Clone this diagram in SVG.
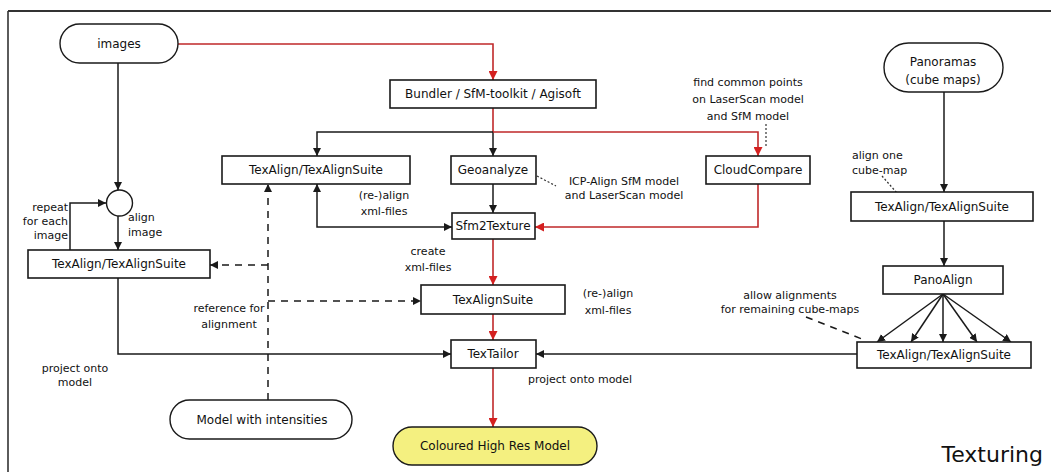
<svg xmlns="http://www.w3.org/2000/svg" width="1051" height="472" viewBox="0 0 1051 472">
  <style>
    .box { fill: #ffffff; stroke: #1a1a1a; stroke-width: 1.6; }
    .pill { fill: #ffffff; stroke: #1a1a1a; stroke-width: 1.4; }
    .final { fill: #f4f080; stroke: #1a1a1a; stroke-width: 1.4; }
    .lbl { font-family: "DejaVu Sans", Verdana, sans-serif; font-size: 12px; fill: #111; text-anchor: middle; }
    .note { font-family: "DejaVu Sans", Verdana, sans-serif; font-size: 11px; fill: #111; }
    .mid { text-anchor: middle; }
    .end { text-anchor: end; }
    .k { fill: none; stroke: #1a1a1a; stroke-width: 1.5; }
    .r { fill: none; stroke: #c0282a; stroke-width: 1.6; }
    .dash { fill: none; stroke: #1a1a1a; stroke-width: 1.5; stroke-dasharray: 7 6; }
    .dot { fill: none; stroke: #333; stroke-width: 1.2; stroke-dasharray: 2 2; }
  </style>
  <defs>
    <marker id="ak" viewBox="0 0 10 10" refX="10" refY="5" markerWidth="8" markerHeight="8" markerUnits="userSpaceOnUse" orient="auto-start-reverse">
      <path d="M0,0 L10,5 L0,10 z" fill="#1a1a1a"/>
    </marker>
    <marker id="ar" viewBox="0 0 10 10" refX="10" refY="5" markerWidth="9" markerHeight="9" markerUnits="userSpaceOnUse" orient="auto">
      <path d="M0,0 L10,5 L0,10 z" fill="#d42020"/>
    </marker>
  </defs>

  <rect width="1051" height="472" fill="#ffffff"/>

  <!-- frame -->
  <g id="frame">
    <line x1="8" y1="11" x2="1051" y2="11" stroke="#333" stroke-width="2"/>
    <line x1="8" y1="11" x2="8" y2="472" stroke="#333" stroke-width="1.6"/>
    <text x="1043" y="462" font-family="DejaVu Sans, Verdana, sans-serif" font-size="22" fill="#111" text-anchor="end">Texturing</text>
  </g>

  <!-- connectors -->
  <g id="connectors">
    <polyline class="r" points="178,44 493,44 493,80" marker-end="url(#ar)"/>
    <line class="k" x1="118" y1="63" x2="118" y2="190" marker-end="url(#ak)"/>
    <line class="k" x1="118" y1="216" x2="118" y2="250" marker-end="url(#ak)"/>
    <polyline class="k" points="70,250 70,203 106,203" marker-end="url(#ak)"/>
    <polyline class="k" points="118,278 118,354 451,354" marker-end="url(#ak)"/>

    <line class="r" x1="493" y1="108" x2="493" y2="132"/>
    <line class="k" x1="493" y1="132" x2="493" y2="156" marker-end="url(#ak)"/>
    <polyline class="k" points="493,132 317,132 317,156" marker-end="url(#ak)"/>
    <polyline class="r" points="493,132 758,132 758,156" marker-end="url(#ar)"/>

    <line class="k" x1="493" y1="184" x2="493" y2="213" marker-end="url(#ak)"/>
    <polyline class="k" points="317,184 317,227 452,227" marker-start="url(#ak)" marker-end="url(#ak)"/>
    <polyline class="r" points="758,184 758,227 535,227" marker-end="url(#ar)"/>
    <line class="r" x1="493" y1="239" x2="493" y2="285" marker-end="url(#ar)"/>
    <line class="r" x1="493" y1="314" x2="493" y2="340" marker-end="url(#ar)"/>
    <line class="r" x1="493" y1="368" x2="493" y2="427" marker-end="url(#ar)"/>

    <line class="dash" x1="268" y1="400" x2="268" y2="184" marker-end="url(#ak)"/>
    <line class="dash" x1="268" y1="265" x2="210" y2="265" marker-end="url(#ak)"/>
    <line class="dash" x1="268" y1="301" x2="421" y2="301" marker-end="url(#ak)"/>

    <line class="k" x1="944" y1="92" x2="944" y2="192" marker-end="url(#ak)"/>
    <line class="k" x1="944" y1="221" x2="944" y2="266" marker-end="url(#ak)"/>
    <line class="k" x1="943" y1="294" x2="877" y2="342" marker-end="url(#ak)"/>
    <line class="k" x1="943" y1="294" x2="911" y2="342" marker-end="url(#ak)"/>
    <line class="k" x1="943" y1="294" x2="943" y2="342" stroke-width="2.2" marker-end="url(#ak)"/>
    <line class="k" x1="943" y1="294" x2="977" y2="342" marker-end="url(#ak)"/>
    <line class="k" x1="943" y1="294" x2="1011" y2="342" marker-end="url(#ak)"/>
    <line class="k" x1="857" y1="354" x2="536" y2="354" marker-end="url(#ak)"/>

    <!-- annotation leaders -->
    <line class="dot" x1="537" y1="176" x2="556" y2="186"/>
    <line class="dot" x1="766" y1="124" x2="766" y2="146"/>
    <line class="dot" x1="882" y1="176" x2="897" y2="193"/>
    <line class="dash" x1="806" y1="317" x2="862" y2="339" stroke-dasharray="4 3" stroke-width="1.2"/>
  </g>

  <!-- nodes -->
  <g id="images">
    <rect class="pill" x="60" y="24" width="118" height="39" rx="19.5"/>
    <text class="lbl" x="119" y="48">images</text>
  </g>
  <g id="align-image">
    <circle class="pill" cx="119.5" cy="203" r="13"/>
  </g>
  <g id="texalign-left">
    <rect class="box" x="28" y="250" width="182" height="28"/>
    <text class="lbl" x="119" y="268">TexAlign/TexAlignSuite</text>
  </g>
  <g id="bundler">
    <rect class="box" x="390" y="80" width="206" height="28"/>
    <text class="lbl" x="493" y="98">Bundler / SfM-toolkit / Agisoft</text>
  </g>
  <g id="texalign-upper">
    <rect class="box" x="222" y="156" width="188" height="28"/>
    <text class="lbl" x="316" y="174">TexAlign/TexAlignSuite</text>
  </g>
  <g id="geoanalyze">
    <rect class="box" x="451" y="156" width="85" height="28"/>
    <text class="lbl" x="493" y="174">Geoanalyze</text>
  </g>
  <g id="cloudcompare">
    <rect class="box" x="706" y="156" width="104" height="28"/>
    <text class="lbl" x="758" y="174">CloudCompare</text>
  </g>
  <g id="sfm2texture">
    <rect class="box" x="452" y="213" width="83" height="26"/>
    <text class="lbl" x="493" y="230">Sfm2Texture</text>
  </g>
  <g id="texalignsuite">
    <rect class="box" x="421" y="285" width="144" height="29"/>
    <text class="lbl" x="493" y="304">TexAlignSuite</text>
  </g>
  <g id="textailor">
    <rect class="box" x="451" y="340" width="85" height="28"/>
    <text class="lbl" x="493" y="358">TexTailor</text>
  </g>
  <g id="coloured-model">
    <rect class="final" x="393" y="427" width="204" height="38" rx="19"/>
    <text class="lbl" x="495" y="450">Coloured High Res Model</text>
  </g>
  <g id="model-intensities">
    <rect class="pill" x="170" y="400" width="182" height="39" rx="19.5"/>
    <text class="lbl" x="262" y="424">Model with intensities</text>
  </g>
  <g id="panoramas">
    <rect class="pill" x="884" y="43" width="119" height="49" rx="24.5"/>
    <text class="lbl" x="943" y="66">Panoramas</text>
    <text class="lbl" x="943" y="84">(cube maps)</text>
  </g>
  <g id="texalign-right">
    <rect class="box" x="851" y="192" width="182" height="29"/>
    <text class="lbl" x="942" y="211">TexAlign/TexAlignSuite</text>
  </g>
  <g id="panoalign">
    <rect class="box" x="883" y="266" width="120" height="28"/>
    <text class="lbl" x="943" y="284">PanoAlign</text>
  </g>
  <g id="texalign-bottom-right">
    <rect class="box" x="857" y="342" width="174" height="26"/>
    <text class="lbl" x="944" y="359" font-size="11.5">TexAlign/TexAlignSuite</text>
  </g>

  <!-- connector labels -->
  <g id="labels">
    <text class="note end" x="68" y="211">repeat</text>
    <text class="note end" x="68" y="225">for each</text>
    <text class="note end" x="68" y="239">image</text>
    <text class="note" x="128" y="221">align</text>
    <text class="note" x="128" y="236">image</text>
    <text class="note mid" x="229" y="312">reference for</text>
    <text class="note mid" x="229" y="328">alignment</text>
    <text class="note mid" x="75" y="372">project onto</text>
    <text class="note mid" x="75" y="386">model</text>
    <text class="note mid" x="428" y="255">create</text>
    <text class="note mid" x="428" y="271">xml-files</text>
    <text class="note mid" x="384" y="199">(re-)align</text>
    <text class="note mid" x="384" y="215">xml-files</text>
    <text class="note mid" x="608" y="297">(re-)align</text>
    <text class="note mid" x="608" y="314">xml-files</text>
    <text class="note mid" x="624" y="185">ICP-Align SfM model</text>
    <text class="note mid" x="624" y="199">and LaserScan model</text>
    <text class="note mid" x="748" y="86">find common points</text>
    <text class="note mid" x="748" y="103">on LaserScan model</text>
    <text class="note mid" x="748" y="120">and SfM model</text>
    <text class="note" x="852" y="159">align one</text>
    <text class="note" x="852" y="174">cube-map</text>
    <text class="note mid" x="790" y="299">allow alignments</text>
    <text class="note mid" x="790" y="313">for remaining cube-maps</text>
    <text class="note" x="528" y="383">project onto model</text>
  </g>
</svg>
